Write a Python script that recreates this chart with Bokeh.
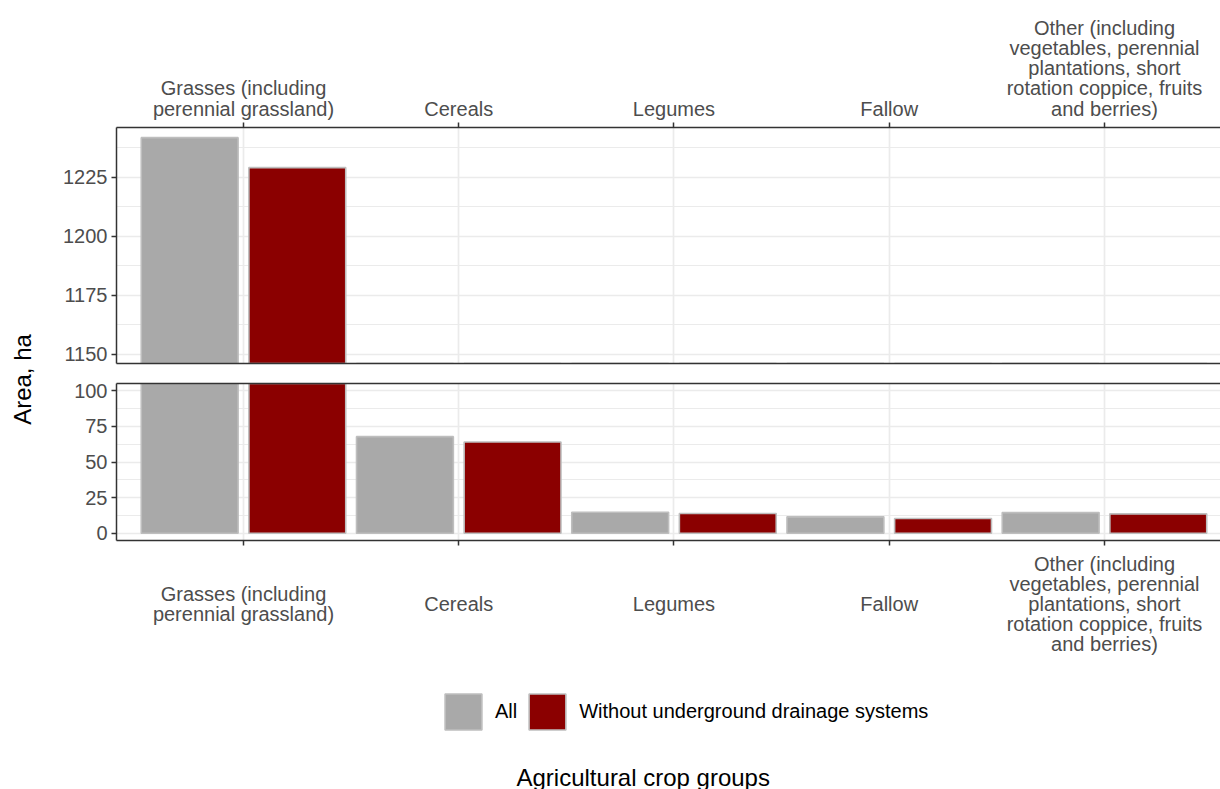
import math
from bokeh.plotting import figure
from bokeh.models import (ColumnDataSource, FixedTicker, SingleIntervalTicker, Range1d,
                          Legend, LegendItem, Label, LinearAxis)
from bokeh.layouts import row, column
from bokeh.transform import dodge
from bokeh.embed import file_html
from bokeh.resources import INLINE

# ---------------- data ----------------
categories = [
    "Grasses (including\nperennial grassland)",
    "Cereals",
    "Legumes",
    "Fallow",
    "Other (including\nvegetables, perennial\nplantations, short\nrotation coppice, fruits\nand berries)",
]
positions = [1, 2, 3, 4, 5]
all_area = [1241.7, 67.8, 14.7, 11.5, 14.5]
no_drain_area = [1229.0, 64.0, 13.8, 10.3, 13.6]
series = ["All", "Without underground drainage systems"]
colors = ["#A9A9A9", "#8B0000"]
top_range = [1146.0, 1246.0]
bottom_range = [-5.1, 105.1]
y_title = "Area, ha"
x_title = "Agricultural crop groups"

FONT = "Liberation Sans"
GRID = "#EBEBEB"
BORDER = "#333333"
TICKTXT = "#4D4D4D"

src = ColumnDataSource(dict(x=positions, all=all_area, nodrain=no_drain_area))
x_range = Range1d(0.41, 5.539)


def centered(label, slots=9):
    # half-line grid: blank lines between text lines, label block centred on the middle slot
    lines = label.split("\n")
    start = (slots - 1) // 2 - (len(lines) - 1)
    return "\n" * start + "\n\n".join(lines)


def style_common(p, y_ticks_interval):
    p.outline_line_color = None
    p.background_fill_color = "white"
    p.border_fill_color = "white"
    p.yaxis.ticker = SingleIntervalTicker(interval=y_ticks_interval, num_minor_ticks=2)
    p.yaxis.axis_line_color = BORDER
    p.yaxis.axis_line_width = 1.5
    p.yaxis.major_tick_line_color = BORDER
    p.yaxis.major_tick_line_width = 1.5
    p.yaxis.major_tick_out = 5
    p.yaxis.major_tick_in = 0
    p.yaxis.minor_tick_line_color = None
    p.yaxis.major_label_standoff = 4
    p.yaxis.major_label_text_font = FONT
    p.yaxis.major_label_text_font_size = "20px"
    p.yaxis.major_label_text_color = TICKTXT
    p.ygrid.grid_line_color = GRID
    p.ygrid.grid_line_width = 1.7
    p.ygrid.minor_grid_line_color = GRID
    p.ygrid.minor_grid_line_width = 1.0
    p.xgrid.ticker = FixedTicker(ticks=positions)
    p.xgrid.grid_line_color = GRID
    p.xgrid.grid_line_width = 1.7


def border_axis(p, side):
    ax = LinearAxis(ticker=FixedTicker(ticks=[]), axis_line_color=BORDER, axis_line_width=1.5,
                    major_tick_out=0, major_tick_in=0, minor_tick_out=0, minor_tick_in=0,
                    major_label_standoff=0, major_tick_line_color=None, minor_tick_line_color=None)
    p.add_layout(ax, side)


def style_xaxis(ax, labels, line_height):
    ax.ticker = FixedTicker(ticks=positions)
    ax.major_label_overrides = {pos: lab for pos, lab in zip(positions, labels)}
    ax.axis_line_color = BORDER
    ax.axis_line_width = 1.5
    ax.major_tick_line_color = BORDER
    ax.major_tick_line_width = 1.5
    ax.major_tick_out = 5
    ax.major_tick_in = 0
    ax.minor_tick_line_color = None
    ax.major_label_text_font = FONT
    ax.major_label_text_font_size = "20px"
    ax.major_label_text_color = TICKTXT
    ax.major_label_text_line_height = line_height


def add_bars(p, xr, width=0.45):
    r1 = p.vbar(x=dodge("x", -0.25, range=xr), top="all", bottom=0, width=width, source=src,
                fill_color=colors[0], line_color="#BEBEBE", line_width=1.6)
    r2 = p.vbar(x=dodge("x", 0.25, range=xr), top="nodrain", bottom=0, width=width, source=src,
                fill_color=colors[1], line_color="#BEBEBE", line_width=1.6)
    return r1, r2


# ---------------- top panel ----------------
top = figure(width=1182, height=373, x_range=x_range, y_range=Range1d(*top_range),
             x_axis_location="above", output_backend="svg", toolbar_location=None,
             min_border_left=78, min_border_right=0, min_border_top=127, min_border_bottom=10)
style_common(top, 25)
style_xaxis(top.xaxis[0], categories, 0.91)
top.xaxis.major_label_standoff = 3
border_axis(top, "below")
add_bars(top, x_range)

# ---------------- bottom panel ----------------
bot = figure(width=1182, height=307, x_range=x_range, y_range=Range1d(*bottom_range),
             x_axis_location="below", output_backend="svg", toolbar_location=None,
             min_border_left=78, min_border_right=0, min_border_top=10, min_border_bottom=140)
style_common(bot, 25)
style_xaxis(bot.xaxis[0], [centered(c) for c in categories], 0.455)
bot.xaxis.major_label_standoff = 7
border_axis(bot, "above")
add_bars(bot, x_range)

# ---------------- legend + x title strip ----------------
foot = figure(width=1182, height=109, x_range=Range1d(0.41, 5.539),
              y_range=Range1d(5000, 5109), output_backend="svg", toolbar_location=None,
              min_border=0, x_axis_location=None, y_axis_location=None)
foot.outline_line_color = None
foot.xgrid.visible = False
foot.ygrid.visible = False
# legend keys only: zero-width series renderers lying outside this strip's view
fa, fb = add_bars(foot, foot.x_range, width=0)

legend = Legend(items=[LegendItem(label=series[0], renderers=[fa]),
                       LegendItem(label=series[1], renderers=[fb])],
                orientation="horizontal", location=(324, 55),
                glyph_width=46, glyph_height=45, label_standoff=9, spacing=7,
                label_text_font=FONT, label_text_font_size="20px", label_text_color="black",
                border_line_color=None, background_fill_color=None, background_fill_alpha=0,
                padding=4, margin=0)
foot.add_layout(legend, "center")

foot.add_layout(Label(x=400, y=12, x_units="screen", y_units="screen", text=x_title,
                      text_align="left", text_baseline="alphabetic", text_font=FONT,
                      text_font_size="24px", text_color="black"))

# ---------------- y title strip ----------------
lab = figure(width=38, height=789, x_range=Range1d(0, 1), y_range=Range1d(0, 1),
             output_backend="svg", toolbar_location=None, min_border=0,
             x_axis_location=None, y_axis_location=None)
lab.outline_line_color = None
lab.xgrid.visible = False
lab.ygrid.visible = False
lab.add_layout(Label(x=22 / 38, y=1 - 379 / 789, text=y_title, angle=math.pi / 2,
                     text_align="center", text_baseline="middle", text_font=FONT,
                     text_font_size="24px", text_color="black"))

layout = row(lab, column(top, bot, foot))
open("out.html", "w").write(file_html(layout, INLINE))
